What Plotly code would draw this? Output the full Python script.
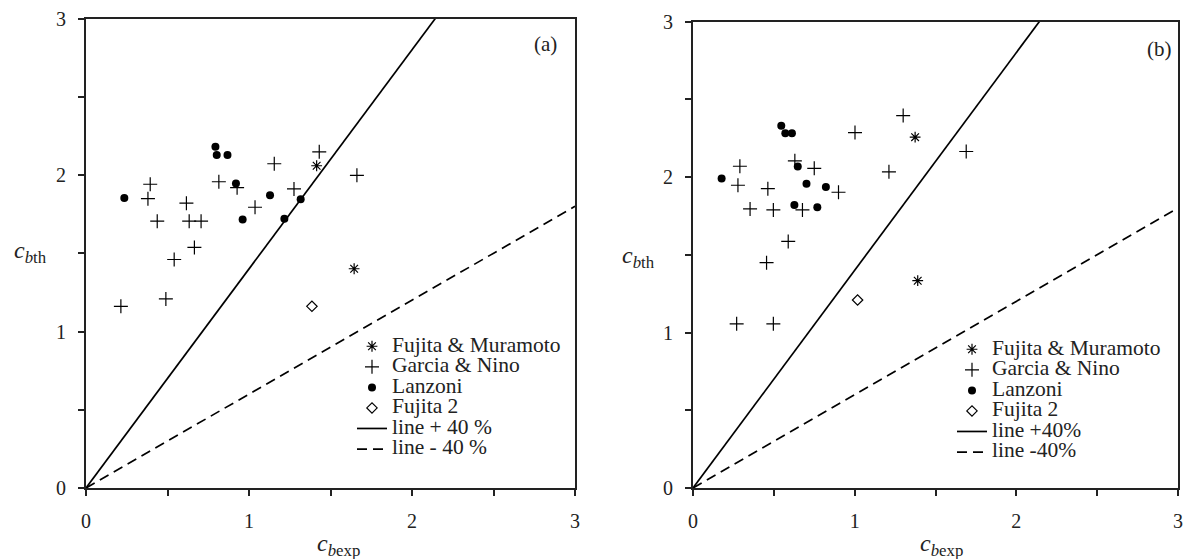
import plotly.graph_objects as go

# ---------------- data ----------------
# Panel (a)
a_fm_x = [1.415, 1.645]
a_fm_y = [2.059, 1.401]
a_gn_x = [1.431, 1.155, 1.662, 0.394, 0.815, 0.927, 1.276, 0.380, 0.616, 1.037,
          0.437, 0.633, 0.706, 0.665, 0.541, 0.490, 0.214]
a_gn_y = [2.148, 2.072, 1.998, 1.941, 1.957, 1.919, 1.911, 1.849, 1.820, 1.794,
          1.705, 1.705, 1.705, 1.537, 1.460, 1.208, 1.161]
a_la_x = [0.794, 0.802, 0.868, 0.235, 0.920, 1.129, 1.317, 0.961, 1.217]
a_la_y = [2.180, 2.127, 2.127, 1.853, 1.945, 1.870, 1.845, 1.715, 1.720]
a_f2_x = [1.386]
a_f2_y = [1.161]

# Panel (b)
b_fm_x = [1.374, 1.390]
b_fm_y = [2.256, 1.333]
b_gn_x = [1.300, 1.002, 0.290, 0.630, 0.750, 1.212, 0.278, 0.463, 0.900, 0.353,
          0.497, 0.677, 0.589, 0.455, 0.270, 0.497, 1.690]
b_gn_y = [2.395, 2.286, 2.069, 2.104, 2.056, 2.033, 1.947, 1.925, 1.902, 1.795,
          1.788, 1.788, 1.586, 1.449, 1.056, 1.056, 2.164]
b_la_x = [0.546, 0.571, 0.612, 0.177, 0.648, 0.702, 0.822, 0.627, 0.769]
b_la_y = [2.329, 2.281, 2.281, 1.990, 2.067, 1.957, 1.936, 1.820, 1.805]
b_f2_x = [1.018]
b_f2_y = [1.209]

line_factors = [1.4, 0.6]
line_x = [0, 3]
tick_vals = [0, 0.5, 1, 1.5, 2, 2.5, 3]
tick_text = ["0", "", "1", "", "2", "", "3"]

labels_a = ["Fujita & Muramoto", "Garcia & Nino", "Lanzoni", "Fujita 2", "line + 40 %", "line - 40 %"]
labels_b = ["Fujita & Muramoto", "Garcia & Nino", "Lanzoni", "Fujita 2", "line +40%", "line -40%"]

FONT = "Liberation Serif"
W, H = 1186, 559
LEG_TXT = 21.5


def px(xs):
    return min(1.0, max(0.0, xs / W))


def py(ys):
    return min(1.0, max(0.0, (H - ys) / H))


def big(t):
    return '<span style="font-size:%.1fpx">%s</span>' % (LEG_TXT, t)


fig = go.Figure()


def add_panel(xa, ya, leg, labels, fm, gn, la, f2):
    fig.add_trace(go.Scatter(x=fm[0], y=fm[1], mode="markers", name=big(labels[0]),
                             xaxis=xa, yaxis=ya, legend=leg,
                             marker=dict(symbol="asterisk-open", size=9, color="black",
                                         line=dict(width=1.2, color="black"))))
    fig.add_trace(go.Scatter(x=gn[0], y=gn[1], mode="markers", name=big(labels[1]),
                             xaxis=xa, yaxis=ya, legend=leg,
                             marker=dict(symbol="cross-thin-open", size=10, color="black",
                                         line=dict(width=1.2, color="black"))))
    fig.add_trace(go.Scatter(x=la[0], y=la[1], mode="markers", name=big(labels[2]),
                             xaxis=xa, yaxis=ya, legend=leg,
                             marker=dict(symbol="circle", size=8, color="black")))
    fig.add_trace(go.Scatter(x=f2[0], y=f2[1], mode="markers", name=big(labels[3]),
                             xaxis=xa, yaxis=ya, legend=leg,
                             marker=dict(symbol="diamond-open", size=8, color="black",
                                         line=dict(width=1.2, color="black"))))
    fig.add_trace(go.Scatter(x=line_x, y=[v * line_factors[0] for v in line_x], mode="lines",
                             name=big(labels[4]), xaxis=xa, yaxis=ya, legend=leg,
                             line=dict(color="black", width=1.7)))
    fig.add_trace(go.Scatter(x=line_x, y=[v * line_factors[1] for v in line_x], mode="lines",
                             name=big(labels[5]), xaxis=xa, yaxis=ya, legend=leg,
                             line=dict(color="black", width=1.7, dash="10px,6px")))


add_panel("x", "y", "legend", labels_a, (a_fm_x, a_fm_y), (a_gn_x, a_gn_y),
          (a_la_x, a_la_y), (a_f2_x, a_f2_y))
add_panel("x2", "y2", "legend2", labels_b, (b_fm_x, b_fm_y), (b_gn_x, b_gn_y),
          (b_la_x, b_la_y), (b_f2_x, b_f2_y))

axis_common = dict(range=[0, 3], tickvals=tick_vals, ticktext=tick_text, ticks="outside",
                   ticklen=6, tickwidth=1.5, tickcolor="#222", showline=True, linewidth=2,
                   linecolor="#222", mirror=True, showgrid=False, zeroline=False,
                   tickfont=dict(family=FONT, size=20, color="#222"), fixedrange=True,
                   ticklabelstandoff=8, automargin=False)

leg_common = dict(xanchor="left", yanchor="top", bgcolor="rgba(0,0,0,0)",
                  font=dict(family=FONT, size=13.5, color="#222"),
                  tracegroupgap=0, itemwidth=30)

fig.update_layout(
    template="none",
    width=W, height=H,
    margin=dict(l=0, r=0, t=0, b=0, autoexpand=False),
    plot_bgcolor="white", paper_bgcolor="white",
    font=dict(family=FONT, color="#222"),
    xaxis=dict(domain=[px(86), px(575)], anchor="y", **axis_common),
    yaxis=dict(domain=[py(488), py(18.5)], anchor="x", **axis_common),
    xaxis2=dict(domain=[px(693), px(1178)], anchor="y2", **axis_common),
    yaxis2=dict(domain=[py(488), py(21.5)], anchor="x2", **axis_common),
    legend=dict(x=px(352), y=py(331), **leg_common),
    legend2=dict(x=px(952), y=py(334), **leg_common),
    showlegend=True,
)

ann_font = dict(family=FONT, size=21, color="#222")
title_font = dict(family=FONT, size=24, color="#222")
annotations = [
    dict(text="(a)", x=px(545), y=py(44), font=ann_font),
    dict(text="(b)", x=px(1159), y=py(49), font=ann_font),
    dict(text="<i>c</i><sub><i>b</i>exp</sub>", x=px(338), y=py(545), font=title_font),
    dict(text="<i>c</i><sub><i>b</i>exp</sub>", x=px(942), y=py(545), font=title_font),
    dict(text="<i>c</i><sub><i>b</i>th</sub>", x=px(30), y=py(252), font=title_font),
    dict(text="<i>c</i><sub><i>b</i>th</sub>", x=px(638), y=py(257), font=title_font),
]
for a in annotations:
    a.update(xref="paper", yref="paper", showarrow=False,
             xanchor="center", yanchor="middle")
fig.update_layout(annotations=annotations)

fig.write_html("out.html", config=dict(displayModeBar=False))
